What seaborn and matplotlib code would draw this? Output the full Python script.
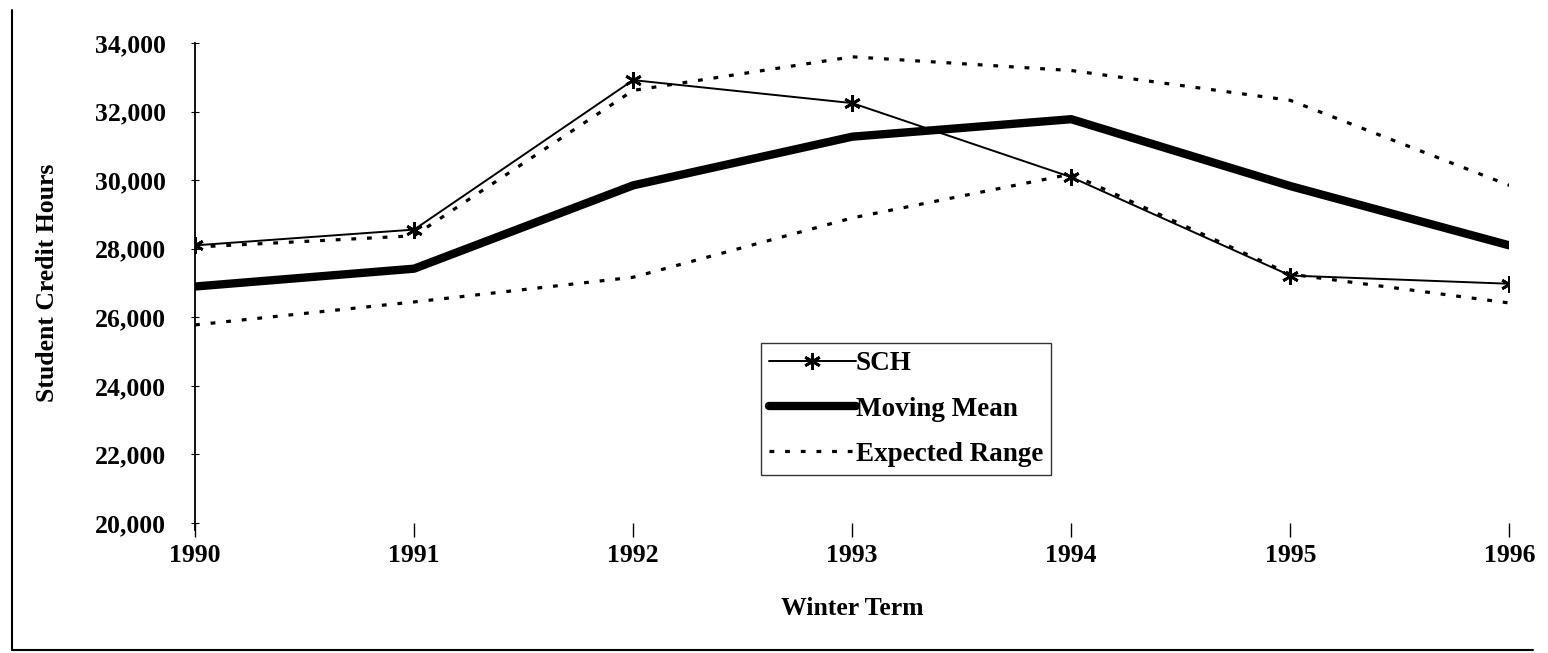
import numpy as np
import pandas as pd
import matplotlib
matplotlib.use("Agg")
import matplotlib.pyplot as plt
from matplotlib.lines import Line2D
from matplotlib.ticker import StrMethodFormatter
import seaborn as sns

years = [1990, 1991, 1992, 1993, 1994, 1995, 1996]
sch = [28100, 28560, 32920, 32250, 30090, 27220, 26980]
moving_mean = [26900, 27420, 29850, 31270, 31780, 29830, 28100]
range_upper = [28050, 28380, 32620, 33600, 33200, 32330, 29850]
range_lower = [25780, 26450, 27170, 28900, 30180, 27260, 26420]
y_ticks = [20000, 22000, 24000, 26000, 28000, 30000, 32000, 34000]

sns.set_style("white")
plt.rcParams['font.family'] = ['Liberation Serif', 'DejaVu Serif']
plt.rcParams['font.weight'] = 'bold'
for key in ["text.color", "axes.labelcolor", "xtick.color", "ytick.color"]:
    plt.rcParams[key] = "black"

fs = 18.5
fig = plt.figure(figsize=(15.48, 6.53), dpi=100)
ax = fig.add_axes([0.126, 0.199, 0.849, 0.735])

df = pd.DataFrame({"year": years, "sch": sch, "mean": moving_mean,
                   "upper": range_upper, "lower": range_lower})

dotted = dict(color="black", linewidth=2.3, dashes=(1.5, 3.4), legend=False)
sns.lineplot(data=df, x="year", y="upper", ax=ax, **dotted)
sns.lineplot(data=df, x="year", y="lower", ax=ax, **dotted)
sns.lineplot(data=df, x="year", y="mean", ax=ax, color="black",
             linewidth=6, legend=False, solid_capstyle="round")
sns.lineplot(data=df, x="year", y="sch", ax=ax, color="black", linewidth=1.4,
             marker=(6, 2, 0), markersize=12, markeredgewidth=2.0,
             markeredgecolor="black", legend=False)

ax.set_xlim(years[0], years[-1])
ax.set_ylim(y_ticks[0], y_ticks[-1])
ax.set_xticks(years)
ax.set_yticks(y_ticks)
ax.yaxis.set_major_formatter(StrMethodFormatter("{x:,.0f}"))
ax.tick_params(axis="x", direction="out", length=10, width=1, pad=5,
               labelsize=fs, bottom=True)
ax.tick_params(axis="y", direction="inout", length=6, width=0.8, pad=18,
               labelsize=fs, left=True)
for lab in ax.get_xticklabels() + ax.get_yticklabels():
    lab.set_fontweight("bold")

for s in ["top", "right", "bottom"]:
    ax.spines[s].set_visible(False)
ax.spines["left"].set_color("black")
ax.spines["left"].set_linewidth(1.3)
ax.spines["left"].set_bounds(y_ticks[0] - 200, y_ticks[-1])

ax.set_xlabel("Winter Term", fontsize=fs, fontweight="bold", labelpad=22)
ax.set_ylabel("Student Credit Hours", fontsize=fs, fontweight="bold", labelpad=26)

handles = [
    Line2D([], [], color="black", linewidth=1.4, marker=(6, 2, 0),
           markersize=12, markeredgewidth=2.0),
    Line2D([], [], color="black", linewidth=6, solid_capstyle="round"),
    Line2D([], [], color="black", linewidth=2.3, linestyle=(0, (1.5, 3.4))),
]
leg = ax.legend(handles, ["SCH", "Moving Mean", "Expected Range"],
                loc="upper left", bbox_to_anchor=(0.4305, 0.375),
                frameon=True, fancybox=False, handlelength=3.2,
                handletextpad=0.0, borderpad=0.3, borderaxespad=0,
                labelspacing=0.75,
                prop={"family": "Liberation Serif", "weight": "bold", "size": 19.5})
leg.get_frame().set_edgecolor("black")
leg.get_frame().set_linewidth(1.0)

# scanned page border
fig.add_artist(Line2D([0.0075, 0.0075], [0.005, 0.985], color="black",
                      linewidth=1.5, transform=fig.transFigure))
fig.add_artist(Line2D([0.0075, 0.99], [0.005, 0.005], color="black",
                      linewidth=1.5, transform=fig.transFigure))

fig.savefig("out.png", dpi=100)
